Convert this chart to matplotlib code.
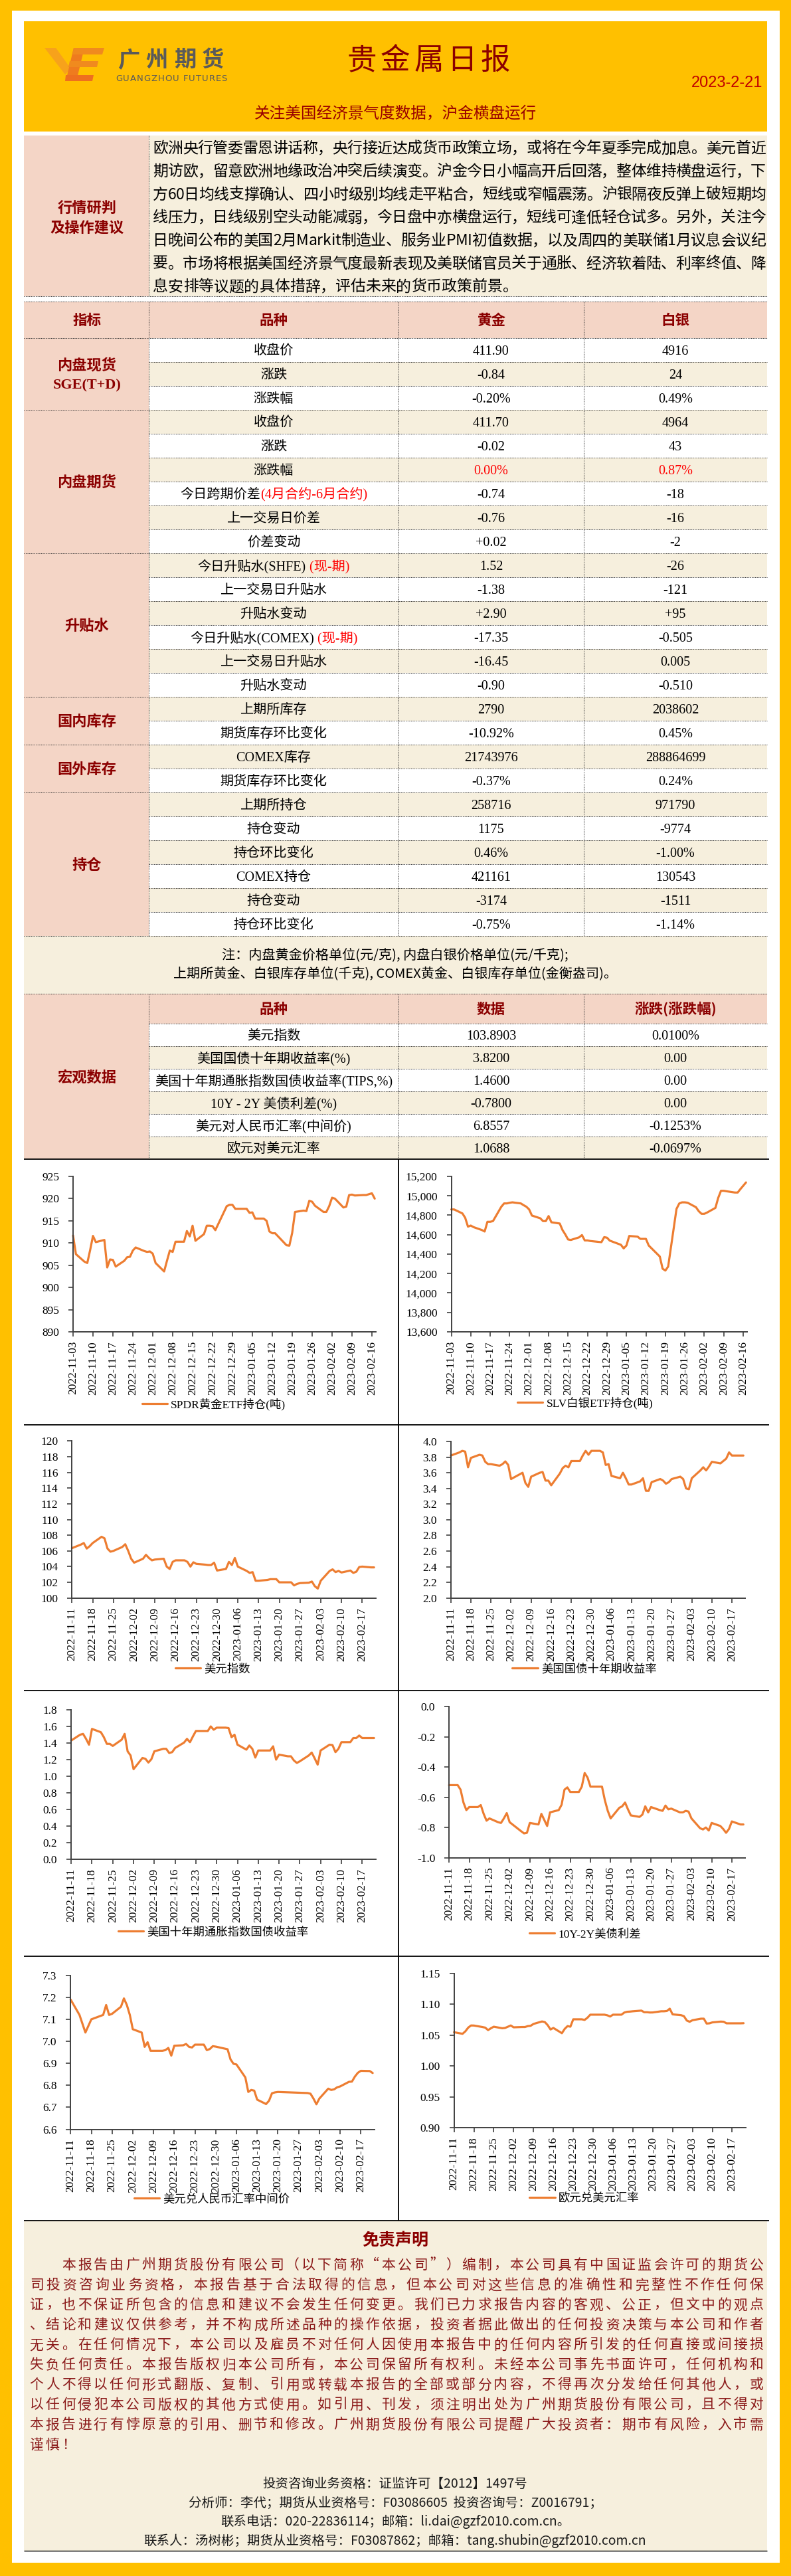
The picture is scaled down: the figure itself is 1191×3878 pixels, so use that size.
import numpy as np
import pandas as pd
import matplotlib
matplotlib.use('Agg')
import matplotlib.pyplot as plt
from matplotlib.font_manager import FontProperties
from matplotlib.patches import Rectangle, Polygon

plt.rcParams['font.family'] = ['Liberation Serif', 'Noto Sans CJK SC', 'DejaVu Sans']

# ---------------------------------------------------------------- data
report_title = '贵金属日报'
report_date = '2023-2-21'
subtitle = '关注美国经济景气度数据，沪金横盘运行'
logo_cn = '广州期货'
logo_en = 'GUANGZHOU FUTURES'

comment_label = ['行情研判', '及操作建议']
comment_lines = [
    '欧洲央行管委雷恩讲话称，央行接近达成货币政策立场，或将在今年夏季完成加息。美元首近',
    '期访欧，留意欧洲地缘政治冲突后续演变。沪金今日小幅高开后回落，整体维持横盘运行，下',
    '方60日均线支撑确认、四小时级别均线走平粘合，短线或窄幅震荡。沪银隔夜反弹上破短期均',
    '线压力，日线级别空头动能减弱，今日盘中亦横盘运行，短线可逢低轻仓试多。另外，关注今',
    '日晚间公布的美国2月Markit制造业、服务业PMI初值数据，以及周四的美联储1月议息会议纪',
    '要。市场将根据美国经济景气度最新表现及美联储官员关于通胀、经济软着陆、利率终值、降',
    '息安排等议题的具体措辞，评估未来的货币政策前景。',
]

table_head = ['指标', '品种', '黄金', '白银']
group_names = [['内盘现货', 'SGE(T+D)'], ['内盘期货'], ['升贴水'], ['国内库存'], ['国外库存'], ['持仓']]
group_sizes = [3, 6, 6, 2, 2, 6]
item_names = ['收盘价', '涨跌', '涨跌幅',
              '收盘价', '涨跌', '涨跌幅', '今日跨期价差', '上一交易日价差', '价差变动',
              '今日升贴水(SHFE)', '上一交易日升贴水', '升贴水变动',
              '今日升贴水(COMEX)', '上一交易日升贴水', '升贴水变动',
              '上期所库存', '期货库存环比变化',
              'COMEX库存', '期货库存环比变化',
              '上期所持仓', '持仓变动', '持仓环比变化', 'COMEX持仓', '持仓变动', '持仓环比变化']
item_red_suffix = {6: '(4月合约-6月合约)', 9: ' (现-期)', 12: ' (现-期)'}
gold_values = ['411.90', '-0.84', '-0.20%', '411.70', '-0.02', '0.00%', '-0.74', '-0.76', '+0.02',
               '1.52', '-1.38', '+2.90', '-17.35', '-16.45', '-0.90', '2790', '-10.92%',
               '21743976', '-0.37%', '258716', '1175', '0.46%', '421161', '-3174', '-0.75%']
silver_values = ['4916', '24', '0.49%', '4964', '43', '0.87%', '-18', '-16', '-2',
                 '-26', '-121', '+95', '-0.505', '0.005', '-0.510', '2038602', '0.45%',
                 '288864699', '0.24%', '971790', '-9774', '-1.00%', '130543', '-1511', '-1.14%']
red_value_rows = [5]
note_lines = ['注：内盘黄金价格单位(元/克), 内盘白银价格单位(元/千克);',
              '上期所黄金、白银库存单位(千克), COMEX黄金、白银库存单位(金衡盎司)。']

macro_label = '宏观数据'
macro_head = ['品种', '数据', '涨跌(涨跌幅)']
macro_items = ['美元指数', '美国国债十年期收益率(%)', '美国十年期通胀指数国债收益率(TIPS,%)',
               '10Y - 2Y 美债利差(%)', '美元对人民币汇率(中间价)', '欧元对美元汇率']
macro_values = ['103.8903', '3.8200', '1.4600', '-0.7800', '6.8557', '1.0688']
macro_changes = ['0.0100%', '0.00', '0.00', '0.00', '-0.1253%', '-0.0697%']

# ---- chart series
spdr_dates = ['2022-11-03', '2022-11-04', '2022-11-07', '2022-11-08', '2022-11-09', '2022-11-10', '2022-11-11',
              '2022-11-14', '2022-11-15', '2022-11-16', '2022-11-17', '2022-11-18', '2022-11-21', '2022-11-22',
              '2022-11-23', '2022-11-24', '2022-11-25', '2022-11-28', '2022-11-29', '2022-11-30', '2022-12-01',
              '2022-12-02', '2022-12-05', '2022-12-06', '2022-12-07', '2022-12-08', '2022-12-09', '2022-12-12',
              '2022-12-13', '2022-12-14', '2022-12-15', '2022-12-16', '2022-12-19', '2022-12-20', '2022-12-21',
              '2022-12-22', '2022-12-23', '2022-12-27', '2022-12-28', '2022-12-29', '2022-12-30', '2023-01-03',
              '2023-01-04', '2023-01-05', '2023-01-06', '2023-01-09', '2023-01-10', '2023-01-11', '2023-01-12',
              '2023-01-13', '2023-01-17', '2023-01-18', '2023-01-19', '2023-01-20', '2023-01-23', '2023-01-24',
              '2023-01-25', '2023-01-26', '2023-01-27', '2023-01-30', '2023-01-31', '2023-02-01', '2023-02-02',
              '2023-02-03', '2023-02-06', '2023-02-07', '2023-02-08', '2023-02-09', '2023-02-10', '2023-02-13',
              '2023-02-14', '2023-02-15', '2023-02-16', '2023-02-17']
spdr_values = [911.7, 907.5, 905.8, 905.5, 908.4, 911.6, 910.2,
               910.7, 904.5, 906.3, 906.2, 904.7, 906.0, 906.8,
               906.9, 908.3, 909.0, 908.2, 908.0, 908.1, 907.6,
               905.5, 903.6, 906.0, 908.3, 908.0, 910.3, 910.3,
               912.7, 911.5, 913.9, 910.5, 912.0, 913.9, 913.9,
               913.8, 912.9, 918.3, 918.6, 918.6, 917.7, 917.7,
               916.8, 916.9, 915.5, 915.5, 915.0, 912.6, 912.2,
               912.2, 909.5, 909.4, 912.3, 917.0, 917.3, 917.2,
               919.5, 919.3, 918.4, 917.0, 917.0, 918.3, 920.2,
               920.0, 918.0, 918.2, 920.8, 920.9, 920.7, 920.8,
               920.8, 921.0, 921.2, 920.0]

slv_dates = spdr_dates
slv_values = [14860, 14860, 14819, 14774, 14683, 14694, 14678,
              14648, 14633, 14733, 14733, 14740, 14888, 14922,
              14922, 14929, 14933, 14922, 14904, 14888, 14860,
              14797, 14769, 14740, 14740, 14792, 14728, 14715,
              14648, 14603, 14551, 14546, 14573, 14596, 14541,
              14541, 14535, 14523, 14575, 14569, 14539, 14496,
              14459, 14489, 14587, 14580, 14557, 14557, 14557,
              14489, 14375, 14250, 14231, 14272, 14865, 14922,
              14933, 14933, 14929, 14883, 14842, 14815, 14815,
              14828, 14876, 14979, 15052, 15052, 15047, 15034,
              15034, 15070, 15104, 15138]

us_dates = ['2022-11-11', '2022-11-14', '2022-11-15', '2022-11-16', '2022-11-17', '2022-11-18', '2022-11-21',
            '2022-11-22', '2022-11-23', '2022-11-24', '2022-11-25', '2022-11-28', '2022-11-29', '2022-11-30',
            '2022-12-01', '2022-12-02', '2022-12-05', '2022-12-06', '2022-12-07', '2022-12-08', '2022-12-09',
            '2022-12-12', '2022-12-13', '2022-12-14', '2022-12-15', '2022-12-16', '2022-12-19', '2022-12-20',
            '2022-12-21', '2022-12-22', '2022-12-23', '2022-12-26', '2022-12-27', '2022-12-28', '2022-12-29',
            '2022-12-30', '2023-01-02', '2023-01-03', '2023-01-04', '2023-01-05', '2023-01-06', '2023-01-09',
            '2023-01-10', '2023-01-11', '2023-01-12', '2023-01-13', '2023-01-16', '2023-01-17', '2023-01-18',
            '2023-01-19', '2023-01-20', '2023-01-23', '2023-01-24', '2023-01-25', '2023-01-26', '2023-01-27',
            '2023-01-30', '2023-01-31', '2023-02-01', '2023-02-02', '2023-02-03', '2023-02-06', '2023-02-07',
            '2023-02-08', '2023-02-09', '2023-02-10', '2023-02-13', '2023-02-14', '2023-02-15', '2023-02-16',
            '2023-02-17', '2023-02-20', '2023-02-21']
dxy_values = [106.35, 106.8, 107.0, 106.3, 106.6, 107.0, 107.8,
              107.6, 106.3, 105.9, 106.0, 106.5, 106.85, 106.0,
              105.0, 104.5, 105.0, 105.5, 105.1, 104.8, 104.9,
              105.0, 104.0, 103.7, 104.6, 104.8, 104.8, 104.6,
              104.0, 104.55, 104.35, 104.25, 104.2, 104.2, 104.5,
              103.5, 103.7, 104.6, 104.2, 105.1, 104.0, 103.45,
              103.2, 103.3, 102.2, 102.2, 102.3, 102.4, 102.4,
              102.4, 102.0, 102.0, 102.0, 101.6, 101.8, 101.9,
              101.95, 102.1, 101.5, 101.2, 102.2, 103.45, 103.65,
              103.3, 103.45, 103.25, 103.5, 103.2, 103.35, 103.95,
              104.0, 103.9, 103.9]
ust10_values = [3.82, 3.86, 3.88, 3.87, 3.67, 3.79, 3.83,
                3.82, 3.74, 3.71, 3.71, 3.69, 3.71, 3.745,
                3.70, 3.52, 3.58, 3.60, 3.47, 3.42, 3.55,
                3.60, 3.61, 3.50, 3.50, 3.44, 3.59, 3.66,
                3.69, 3.67, 3.75, 3.75, 3.82, 3.88, 3.83,
                3.88, 3.88, 3.86, 3.70, 3.71, 3.56, 3.53,
                3.60, 3.53, 3.45, 3.45, 3.49, 3.53, 3.37,
                3.37, 3.48, 3.52, 3.50, 3.46, 3.48, 3.52,
                3.55, 3.52, 3.40, 3.39, 3.53, 3.63, 3.67,
                3.63, 3.68, 3.74, 3.72, 3.75, 3.78, 3.86,
                3.82, 3.82, 3.82]
tips_values = [1.43, 1.50, 1.51, 1.45, 1.38, 1.57, 1.53,
               1.47, 1.39, 1.39, 1.365, 1.44, 1.51, 1.30,
               1.25, 1.085, 1.22, 1.21, 1.165, 1.205, 1.30,
               1.33, 1.33, 1.28, 1.29, 1.34, 1.405, 1.45,
               1.41, 1.48, 1.545, 1.545, 1.545, 1.60, 1.56,
               1.585, 1.585, 1.58, 1.47, 1.50, 1.38, 1.32,
               1.37, 1.33, 1.225, 1.31, 1.31, 1.31, 1.36,
               1.20, 1.26, 1.24, 1.24, 1.19, 1.16, 1.18,
               1.25, 1.285, 1.215, 1.14, 1.31, 1.38, 1.375,
               1.29, 1.33, 1.41, 1.41, 1.46, 1.46, 1.49,
               1.46, 1.46, 1.46]
spread_values = [-0.52, -0.52, -0.55, -0.635, -0.685, -0.665, -0.665,
                 -0.652, -0.71, -0.755, -0.74, -0.765, -0.77, -0.74,
                 -0.705, -0.765, -0.81, -0.825, -0.839, -0.835, -0.77,
                 -0.78, -0.71, -0.75, -0.79, -0.70, -0.685, -0.65,
                 -0.55, -0.535, -0.565, -0.565, -0.53, -0.44, -0.47,
                 -0.53, -0.53, -0.53, -0.62, -0.69, -0.74, -0.67,
                 -0.66, -0.635, -0.68, -0.72, -0.73, -0.715, -0.66,
                 -0.70, -0.665, -0.685, -0.69, -0.655, -0.68, -0.675,
                 -0.70, -0.70, -0.69, -0.695, -0.74, -0.805, -0.813,
                 -0.80, -0.82, -0.77, -0.79, -0.81, -0.835, -0.81,
                 -0.76, -0.78, -0.78]

cny_dates = ['2022-11-11', '2022-11-14', '2022-11-15', '2022-11-16', '2022-11-17', '2022-11-18', '2022-11-21',
             '2022-11-22', '2022-11-23', '2022-11-24', '2022-11-25', '2022-11-28', '2022-11-29', '2022-11-30',
             '2022-12-01', '2022-12-02', '2022-12-05', '2022-12-06', '2022-12-07', '2022-12-08', '2022-12-09',
             '2022-12-12', '2022-12-13', '2022-12-14', '2022-12-15', '2022-12-16', '2022-12-19', '2022-12-20',
             '2022-12-21', '2022-12-22', '2022-12-23', '2022-12-26', '2022-12-27', '2022-12-28', '2022-12-29',
             '2022-12-30', '2023-01-03', '2023-01-04', '2023-01-05', '2023-01-06', '2023-01-09', '2023-01-10',
             '2023-01-11', '2023-01-12', '2023-01-13', '2023-01-16', '2023-01-17', '2023-01-18', '2023-01-19',
             '2023-01-20', '2023-01-30', '2023-01-31', '2023-02-01', '2023-02-02', '2023-02-03', '2023-02-06',
             '2023-02-07', '2023-02-08', '2023-02-09', '2023-02-10', '2023-02-13', '2023-02-14', '2023-02-15',
             '2023-02-16', '2023-02-17', '2023-02-20', '2023-02-21']
cny_values = [7.19, 7.12, 7.08, 7.04, 7.07, 7.10, 7.115,
              7.12, 7.165, 7.12, 7.125, 7.157, 7.195, 7.165,
              7.12, 7.055, 7.04, 6.975, 6.996, 6.957, 6.957,
              6.957, 6.96, 6.97, 6.935, 6.98, 6.982, 6.988,
              6.975, 6.972, 6.985, 6.985, 6.96, 6.965, 6.978,
              6.976, 6.964, 6.918, 6.898, 6.895, 6.836, 6.77,
              6.779, 6.776, 6.735, 6.715, 6.73, 6.764, 6.768,
              6.77, 6.765, 6.762, 6.74, 6.714, 6.74, 6.785,
              6.779, 6.782, 6.791, 6.795, 6.816, 6.817, 6.84,
              6.857, 6.866, 6.865, 6.856]

eur_dates = ['2022-11-11', '2022-11-14', '2022-11-15', '2022-11-16', '2022-11-17', '2022-11-18', '2022-11-21',
             '2022-11-22', '2022-11-23', '2022-11-24', '2022-11-25', '2022-11-28', '2022-11-29', '2022-11-30',
             '2022-12-01', '2022-12-02', '2022-12-05', '2022-12-06', '2022-12-07', '2022-12-08', '2022-12-09',
             '2022-12-12', '2022-12-13', '2022-12-14', '2022-12-15', '2022-12-16', '2022-12-19', '2022-12-20',
             '2022-12-21', '2022-12-22', '2022-12-23', '2022-12-26', '2022-12-27', '2022-12-28', '2022-12-29',
             '2022-12-30', '2023-01-03', '2023-01-04', '2023-01-05', '2023-01-06', '2023-01-09', '2023-01-10',
             '2023-01-11', '2023-01-12', '2023-01-13', '2023-01-16', '2023-01-17', '2023-01-18', '2023-01-19',
             '2023-01-20', '2023-01-23', '2023-01-24', '2023-01-25', '2023-01-26', '2023-01-27', '2023-01-30',
             '2023-01-31', '2023-02-01', '2023-02-02', '2023-02-03', '2023-02-06', '2023-02-07', '2023-02-08',
             '2023-02-09', '2023-02-10', '2023-02-13', '2023-02-14', '2023-02-15', '2023-02-16', '2023-02-17',
             '2023-02-20', '2023-02-21']
eur_values = [1.0546, 1.052, 1.056, 1.062, 1.0655, 1.0654, 1.063,
              1.062, 1.058, 1.061, 1.0635, 1.061, 1.0615, 1.0635,
              1.0655, 1.0625, 1.063, 1.063, 1.0645, 1.065, 1.068,
              1.072, 1.071, 1.066, 1.059, 1.0615, 1.053, 1.060,
              1.0645, 1.0635, 1.0755, 1.0755, 1.0745, 1.078, 1.083,
              1.083, 1.083, 1.082, 1.080, 1.083, 1.083, 1.0865,
              1.0877, 1.088, 1.0885, 1.0896, 1.087, 1.087, 1.0865,
              1.0866, 1.0885, 1.0885, 1.089, 1.0927, 1.0835, 1.0822,
              1.0805, 1.0735, 1.0715, 1.074, 1.0765, 1.0765, 1.0686,
              1.069, 1.0705, 1.0718, 1.0715, 1.069, 1.069, 1.069,
              1.069, 1.0692]

disclaimer_title = '免责声明'
disclaimer_lines = [
    '本报告由广州期货股份有限公司（以下简称“本公司”）编制，本公司具有中国证监会许可的期货公',
    '司投资咨询业务资格，本报告基于合法取得的信息，但本公司对这些信息的准确性和完整性不作任何保',
    '证，也不保证所包含的信息和建议不会发生任何变更。我们已力求报告内容的客观、公正，但文中的观点',
    '、结论和建议仅供参考，并不构成所述品种的操作依据，投资者据此做出的任何投资决策与本公司和作者',
    '无关。在任何情况下，本公司以及雇员不对任何人因使用本报告中的任何内容所引发的任何直接或间接损',
    '失负任何责任。本报告版权归本公司所有，本公司保留所有权利。未经本公司事先书面许可，任何机构和',
    '个人不得以任何形式翻版、复制、引用或转载本报告的全部或部分内容，不得再次分发给任何其他人，或',
    '以任何侵犯本公司版权的其他方式使用。如引用、刊发，须注明出处为广州期货股份有限公司，且不得对',
    '本报告进行有悖原意的引用、删节和修改。广州期货股份有限公司提醒广大投资者：期市有风险，入市需',
    '谨慎！',
]
footer_lines = ['投资咨询业务资格：证监许可【2012】1497号',
                '分析师：李代；期货从业资格号：F03086605  投资咨询号：Z0016791；',
                '联系电话：020-22836114；邮箱：li.dai@gzf2010.com.cn。',
                '联系人：汤树彬；期货从业资格号：F03087862；邮箱：tang.shubin@gzf2010.com.cn']

# ---------------------------------------------------------------- style
GOLD = '#FFC000'
PINK = '#F4D5C6'
CREAM = '#F6EFDD'
DRED = '#8B0000'
RED = '#FF0000'
LINE_C = '#ED7D31'
AX_C = '#404040'
CJK = ['Noto Sans CJK SC', 'DejaVu Sans']
SER = ['Liberation Serif', 'Noto Sans CJK SC', 'DejaVu Sans']

W, H = 1191, 3878
fig = plt.figure(figsize=(W / 100, H / 100), dpi=100)
bg = fig.add_axes([0, 0, 1, 1])
bg.set_xlim(0, W)
bg.set_ylim(H, 0)
bg.axis('off')
R = fig.canvas.get_renderer()


def FP(fam, size, weight='normal'):
    return FontProperties(family=fam, size=size, weight=weight)


def rect(x0, y0, x1, y1, color, z=0):
    bg.add_patch(Rectangle((x0, y0), x1 - x0, y1 - y0, facecolor=color, edgecolor='none', zorder=z))


def hdot(x0, x1, y):
    bg.plot([x0, x1], [y, y], color='#333333', lw=0.7, ls=(0, (1.3, 1.3)), zorder=3)


def vdot(x, y0, y1):
    bg.plot([x, x], [y0, y1], color='#333333', lw=0.7, ls=(0, (1.3, 1.3)), zorder=3)


def solid(xs, ys, lw=1.3):
    bg.plot(xs, ys, color='black', lw=lw, zorder=4, solid_capstyle='butt')


def twidth(s, prop):
    return R.get_text_width_height_descent(s, prop, ismath=False)[0]


def base_off(prop):
    return 0.36 * prop.get_size_in_points() * 100 / 72


def rich(xc, yc, parts, prop, ha='center'):
    ws = [twidth(s, prop) for s, c in parts]
    tot = sum(ws)
    x = xc - tot / 2 if ha == 'center' else xc
    off = base_off(prop)
    for (s, c), w in zip(parts, ws):
        bg.text(x, yc + off, s, ha='left', va='baseline', fontproperties=prop, color=c, zorder=6)
        x += w


def justify(x0, x1, yc, s, prop, color, full=True):
    ws = [twidth(ch, prop) for ch in s]
    gap = (x1 - x0 - sum(ws)) / (len(s) - 1) if (full and len(s) > 1) else 0
    x = x0
    off = base_off(prop)
    for ch, w in zip(s, ws):
        bg.text(x + w / 2, yc + off, ch, ha='center', va='baseline', fontproperties=prop, color=color, zorder=6)
        x += w + gap


def grid_chars(x0, step, yc, s, prop, color):
    off = base_off(prop)
    for k, ch in enumerate(s):
        bg.text(x0 + (k + 0.5) * step, yc + off, ch, ha='center', va='baseline', fontproperties=prop,
                color=color, zorder=6)


# ---------------------------------------------------------------- frame & header
rect(0, 0, W, H, GOLD)
rect(18, 16, 1174, 3858, 'white')
rect(36, 32, 1155, 198, GOLD)

# logo
bg.add_patch(Polygon([(67, 72), (84, 72), (107, 104), (98, 112)], closed=True, fc='#F7A21B', ec='none', zorder=5))
bg.add_patch(Polygon([(111, 72), (127, 72), (115, 122), (99, 122)], closed=True, fc='#EF7B1E', ec='none', zorder=5))
bg.add_patch(Polygon([(111, 72), (157, 72), (154, 82), (109, 82)], closed=True, fc='#F08A1E', ec='none', zorder=5))
bg.add_patch(Polygon([(105, 92), (148, 92), (146, 101), (103, 101)], closed=True, fc='#F08A1E', ec='none', zorder=5))
bg.add_patch(Polygon([(99, 113), (141, 113), (139, 122), (98, 122)], closed=True, fc='#EE6F1F', ec='none', zorder=5))
grid_chars(173, 42.25, 88, logo_cn, FP(CJK, 24, 'bold'), '#5A5A5A')
justify(174, 342, 117, logo_en, FP(['DejaVu Sans'], 9.5), '#5A5A5A')

grid_chars(520, 50.2, 88, report_title, FP(CJK, 32), DRED)
bg.text(1148, 125, report_date, ha='right', va='center', color='#C00000',
        fontproperties=FP(['Liberation Sans Narrow', 'Liberation Sans', 'DejaVu Sans'], 17))
rich(595, 170, [(subtitle, '#990000')], FP(CJK, 17))

# ---------------------------------------------------------------- commentary
rect(36, 204, 224, 446, PINK)
rect(224, 204, 1155, 446, CREAM)
vdot(224, 204, 446)
hdot(36, 1155, 446)
lab_fp = FP(CJK, 16, 'bold')
rich(131, 313, [(comment_label[0], DRED)], lab_fp)
rich(131, 342, [(comment_label[1], DRED)], lab_fp)
com_fp = FP(CJK, 16.5)
for i, line in enumerate(comment_lines):
    yc = 222 + i * 34.7
    justify(230, 1153, yc, line, com_fp, 'black', full=(i < len(comment_lines) - 1))

# ---------------------------------------------------------------- main table
TOP, HEAD_B, ROW_H = 454, 509, 36
N = len(item_names)
TB = HEAD_B + ROW_H * N
rect(36, TOP, 1155, HEAD_B, PINK)
rect(36, HEAD_B, 224, TB, PINK)
for i in range(N):
    y = HEAD_B + ROW_H * i
    rect(224, y, 1155, y + ROW_H, 'white' if i % 2 == 0 else CREAM)
hdot(36, 1155, TOP)
hdot(36, 1155, HEAD_B)
for i in range(1, N + 1):
    hdot(224, 1155, HEAD_B + ROW_H * i)
acc = 0
for g in group_sizes:
    acc += g
    hdot(36, 224, HEAD_B + ROW_H * acc)
for x in (224, 600, 879):
    vdot(x, TOP, TB)

col_c = [131, 412, 739.5, 1017]
head_fp = FP(CJK, 15.5, 'bold')
for c, s in zip(col_c, table_head):
    rich(c, (TOP + HEAD_B) / 2, [(s, DRED)], head_fp)

grp_fp = FP(SER, 16, 'bold')
acc = 0
for names, g in zip(group_names, group_sizes):
    y0 = HEAD_B + ROW_H * acc
    y1 = y0 + ROW_H * g
    acc += g
    yc = (y0 + y1) / 2
    if len(names) == 1:
        rich(131, yc, [(names[0], DRED)], grp_fp)
    else:
        rich(131, yc - 14, [(names[0], DRED)], grp_fp)
        rich(131, yc + 14, [(names[1], DRED)], grp_fp)

cell_fp = FP(SER, 14.5)
for i in range(N):
    yc = HEAD_B + ROW_H * i + ROW_H / 2
    parts = [(item_names[i], 'black')]
    if i in item_red_suffix:
        parts.append((item_red_suffix[i], RED))
    rich(col_c[1], yc, parts, cell_fp)
    vc = RED if i in red_value_rows else 'black'
    rich(col_c[2], yc, [(gold_values[i], vc)], cell_fp)
    rich(col_c[3], yc, [(silver_values[i], vc)], cell_fp)

# note row
NOTE_B = 1496
rect(36, TB, 1155, NOTE_B, CREAM)
note_fp = FP(CJK, 14.5)
rich(595, 1437, [(note_lines[0], 'black')], note_fp)
rich(595, 1465, [(note_lines[1], 'black')], note_fp)

# ---------------------------------------------------------------- macro table
MH_B, MROW = 1541, 34
MB = MH_B + MROW * len(macro_items)
rect(36, NOTE_B, 224, MB, PINK)
rect(224, NOTE_B, 1155, MH_B, PINK)
for i in range(len(macro_items)):
    y = MH_B + MROW * i
    rect(224, y, 1155, y + MROW, 'white' if i % 2 == 0 else CREAM)
hdot(36, 1155, NOTE_B)
for i in range(0, len(macro_items)):
    hdot(224, 1155, MH_B + MROW * i)
for x in (224, 600, 879):
    vdot(x, NOTE_B, MB)
for c, s in zip(col_c[1:], macro_head):
    rich(c, (NOTE_B + MH_B) / 2, [(s, DRED)], head_fp)
rich(131, (NOTE_B + MB) / 2, [(macro_label, DRED)], grp_fp)
for i in range(len(macro_items)):
    yc = MH_B + MROW * i + MROW / 2
    rich(col_c[1], yc, [(macro_items[i], 'black')], cell_fp)
    rich(col_c[2], yc, [(macro_values[i], 'black')], cell_fp)
    rich(col_c[3], yc, [(macro_changes[i], 'black')], cell_fp)

# ---------------------------------------------------------------- chart grid lines
row_lines = [MB, 2145, 2545, 2945, 3343]
for y in row_lines:
    solid([36, 1158], [y, y])
solid([600, 600], [MB, 3343])

# ---------------------------------------------------------------- charts
tick_fp = FP(SER, 12.5)


def draw_chart(box, dates, values, x_start, x_end, tick_start, n_ticks, yticks, yfmt, label, leg_xy):
    x0, y0, x1, y1 = box
    ax = fig.add_axes([x0 / W, 1 - y1 / H, (x1 - x0) / W, (y1 - y0) / H])
    ax.set_facecolor('none')
    ax.plot(pd.to_datetime(dates), values, color=LINE_C, lw=2.3, label=label,
            solid_joinstyle='round', solid_capstyle='round', clip_on=False)
    ax.set_xlim(pd.Timestamp(x_start), pd.Timestamp(x_end))
    ax.set_ylim(yticks[0], yticks[-1])
    ticks = pd.date_range(tick_start, periods=n_ticks, freq='7D')
    ax.set_xticks(ticks)
    ax.set_xticklabels([d.strftime('%Y-%m-%d') for d in ticks], rotation=90, fontproperties=tick_fp)
    ax.set_yticks(yticks)
    ax.set_yticklabels([yfmt.format(v) for v in yticks], fontproperties=tick_fp)
    for s in ('top', 'right'):
        ax.spines[s].set_visible(False)
    for s in ('left', 'bottom'):
        ax.spines[s].set_color(AX_C)
        ax.spines[s].set_linewidth(1.4)
    ax.tick_params(axis='both', direction='out', length=5, width=1.2, color=AX_C, labelcolor='black')
    ax.tick_params(axis='y', pad=10)
    ax.tick_params(axis='x', pad=5)
    ax.legend(loc='center', bbox_to_anchor=(leg_xy[0] / W, 1 - leg_xy[1] / H),
              bbox_transform=fig.transFigure, frameon=False, prop=tick_fp,
              handlelength=2.2, handletextpad=0.3, borderpad=0, borderaxespad=0)
    return ax


END_A = '2023-02-17 10:00'
END_B = '2023-02-21 17:00'
draw_chart((110, 1771, 566, 2005), spdr_dates, spdr_values, '2022-11-03', END_A, '2022-11-03', 16,
           [890, 895, 900, 905, 910, 915, 920, 925], '{:.0f}', 'SPDR黄金ETF持仓(吨)', (322, 2114))
draw_chart((679.5, 1771, 1125, 2005), slv_dates, slv_values, '2022-11-03', END_A, '2022-11-03', 16,
           [13600, 13800, 14000, 14200, 14400, 14600, 14800, 15000, 15200], '{:,.0f}', 'SLV白银ETF持仓(吨)',
           (881, 2112))
draw_chart((108.3, 2169.3, 566.4, 2405.7), us_dates, dxy_values, '2022-11-11', END_B, '2022-11-11', 15,
           [100, 102, 104, 106, 108, 110, 112, 114, 116, 118, 120], '{:.0f}', '美元指数', (320, 2513))
draw_chart((678.8, 2170, 1122.4, 2405.7), us_dates, ust10_values, '2022-11-11', END_B, '2022-11-11', 15,
           [2.0, 2.2, 2.4, 2.6, 2.8, 3.0, 3.2, 3.4, 3.6, 3.8, 4.0], '{:.1f}', '美国国债十年期收益率',
           (880, 2513))
draw_chart((107.2, 2574, 566.4, 2799), us_dates, tips_values, '2022-11-11', END_B, '2022-11-11', 15,
           [0.0, 0.2, 0.4, 0.6, 0.8, 1.0, 1.2, 1.4, 1.6, 1.8], '{:.1f}', '美国十年期通胀指数国债收益率',
           (321, 2909))
draw_chart((676.1, 2569, 1122.4, 2796.7), us_dates, spread_values, '2022-11-11', END_B, '2022-11-11', 15,
           [-1.0, -0.8, -0.6, -0.4, -0.2, 0.0], '{:.1f}', '10Y-2Y美债利差', (881, 2912))
draw_chart((106.3, 2973.7, 564.3, 3205.6), cny_dates, cny_values, '2022-11-11', END_B, '2022-11-11', 15,
           [6.6, 6.7, 6.8, 6.9, 7.0, 7.1, 7.2, 7.3], '{:.1f}', '美元兑人民币汇率中间价', (319, 3311))
draw_chart((683.6, 2970.7, 1122.6, 3203), eur_dates, eur_values, '2022-11-11', END_B, '2022-11-11', 15,
           [0.90, 0.95, 1.00, 1.05, 1.10, 1.15], '{:.2f}', '欧元兑美元汇率', (880, 3310))

# ---------------------------------------------------------------- disclaimer
rect(36, 3343, 1155, 3840, CREAM)
solid([36, 1155], [3840, 3840], lw=1.0)
rich(596, 3371, [(disclaimer_title, DRED)], FP(CJK, 18, 'bold'))
dis_fp = FP(CJK, 15)
DX0, DX1 = 43, 1151
std_step = (DX1 - DX0) / 46
for i, line in enumerate(disclaimer_lines):
    yc = 3408.6 + i * 30.05
    if i == 0:
        step = (DX1 - DX0) / (len(line) + 2)
        grid_chars(DX0 + 2 * step, step, yc, line, dis_fp, '#8B1A1A')
    elif i < len(disclaimer_lines) - 1:
        step = (DX1 - DX0) / len(line)
        grid_chars(DX0, step, yc, line, dis_fp, '#8B1A1A')
    else:
        grid_chars(DX0, std_step, yc, line, dis_fp, '#8B1A1A')

foot_fp = FP(CJK, 14)
for i, line in enumerate(footer_lines):
    rich(595, 3738 + i * 28.5, [(line, '#1A1A1A')], foot_fp)

fig.savefig('out.png', dpi=100)
